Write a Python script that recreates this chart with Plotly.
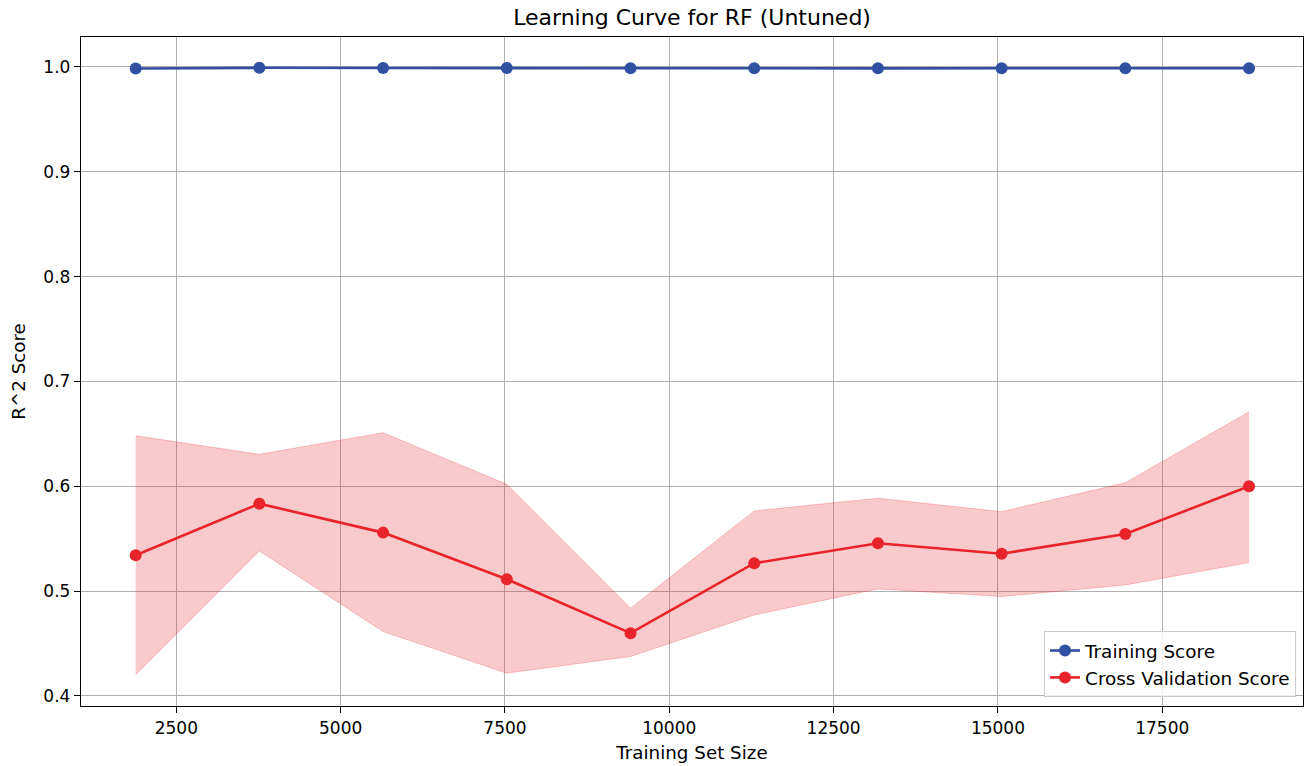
import plotly.graph_objects as go

# Learning curve results (R^2) for an untuned random forest
train_sizes = [1882, 3764, 5646, 7528, 9410, 11292, 13174, 15056, 16938, 18820]
train_mean = [0.9986, 0.9992, 0.9990, 0.9991, 0.9987, 0.9988, 0.9987, 0.9987, 0.9987, 0.9988]
cv_mean = [0.5342, 0.5834, 0.5558, 0.5113, 0.4599, 0.5266, 0.5457, 0.5357, 0.5545, 0.6000]
cv_upper = [0.6482, 0.6305, 0.6511, 0.6019, 0.4837, 0.5765, 0.5886, 0.5758, 0.6034, 0.6711]
cv_lower = [0.4201, 0.5383, 0.4614, 0.4217, 0.4376, 0.4773, 0.5021, 0.4948, 0.5059, 0.5272]

BLUE = "#3050a2"
RED = "#e8232a"
BAND = "rgba(232,35,42,0.24)"
FONT = "DejaVu Sans"

fig = go.Figure()

# shaded +/- one std band around the cross-validation mean
fig.add_trace(go.Scatter(x=train_sizes, y=cv_lower, mode="lines",
                         line=dict(color=BAND, width=1), showlegend=False,
                         hoverinfo="skip"))
fig.add_trace(go.Scatter(x=train_sizes, y=cv_upper, mode="lines",
                         line=dict(color=BAND, width=1), fill="tonexty",
                         fillcolor=BAND, showlegend=False, hoverinfo="skip"))

fig.add_trace(go.Scatter(x=train_sizes, y=train_mean, mode="lines+markers",
                         name="Training Score",
                         line=dict(color=BLUE, width=2.6),
                         marker=dict(color=BLUE, size=12)))
fig.add_trace(go.Scatter(x=train_sizes, y=cv_mean, mode="lines+markers",
                         name="Cross Validation Score",
                         line=dict(color=RED, width=2.6),
                         marker=dict(color=RED, size=12)))

axis_common = dict(
    showgrid=True, gridcolor="#b0b0b0", gridwidth=1.3,
    showline=True, linecolor="black", linewidth=1.4, mirror=True,
    ticks="outside", ticklen=6, tickwidth=1.4, tickcolor="black",
    tickfont=dict(family=FONT, size=17, color="black"),
    zeroline=False,
)

fig.update_xaxes(range=[1050, 19641], tick0=0, dtick=2500, tickformat="d",
                 title=dict(text="Training Set Size",
                            font=dict(family=FONT, size=18.3, color="black"),
                            standoff=9),
                 **axis_common)
fig.update_yaxes(range=[0.3904, 1.0286], tick0=0, dtick=0.1, tickformat=".1f",
                 title=dict(text="R^2 Score",
                            font=dict(family=FONT, size=18.3, color="black"),
                            standoff=12),
                 **axis_common)

fig.update_layout(
    width=1305, height=766,
    margin=dict(l=81, r=2, t=37, b=60),
    paper_bgcolor="white", plot_bgcolor="white",
    font=dict(family=FONT, size=17, color="black"),
    title=dict(text="Learning Curve for RF (Untuned)", x=0.5303, xanchor="center",
               y=1 - 17 / 766, yanchor="middle",
               font=dict(family=FONT, size=22, color="black")),
    legend=dict(x=0.9943, xanchor="right", y=0.0134, yanchor="bottom",
                traceorder="normal",
                bgcolor="rgba(255,255,255,0.8)", bordercolor="#cccccc",
                borderwidth=1, font=dict(family=FONT, size=18.4, color="black"),
                tracegroupgap=0),
    showlegend=True,
)

fig.write_html("out.html")
